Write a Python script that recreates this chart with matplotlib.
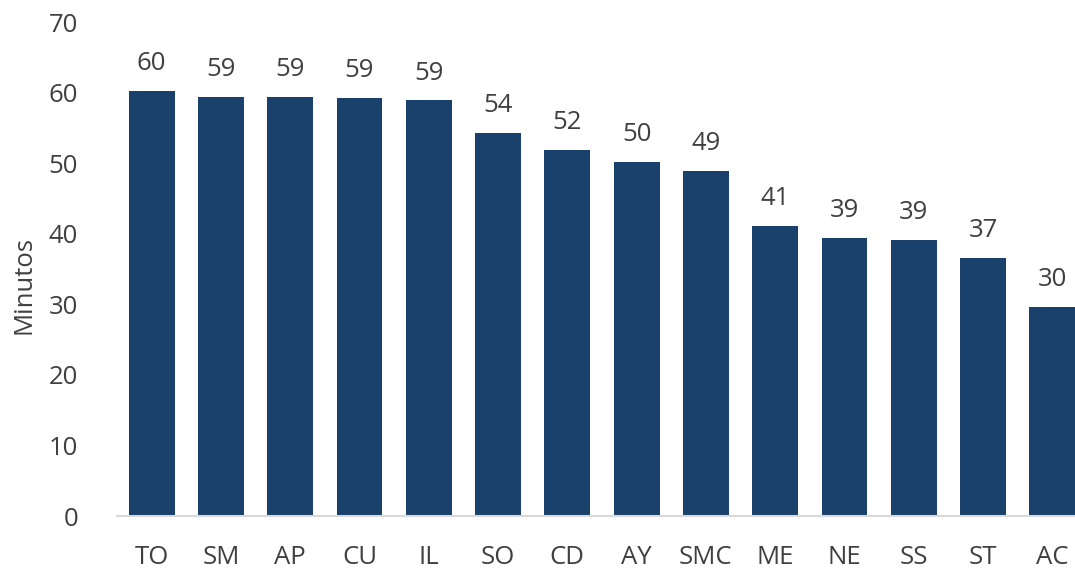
import matplotlib
matplotlib.use("Agg")
import matplotlib.pyplot as plt

categorias = ["TO", "SM", "AP", "CU", "IL", "SO", "CD", "AY", "SMC", "ME", "NE", "SS", "ST", "AC"]
minutos = [60.2, 59.4, 59.4, 59.3, 58.9, 54.3, 51.9, 50.2, 48.9, 41.1, 39.4, 39.1, 36.6, 29.6]

plt.rcParams['font.family'] = ['Open Sans', 'DejaVu Sans']
gris = '#404040'

fig = plt.figure(figsize=(10.75, 5.71), dpi=100)
# right edge runs past the figure, the last bar is cut like in the original
ax = fig.add_axes([117/1075, 55/571, 970/1075, 494/571])

x = range(len(categorias))
bars = ax.bar(x, minutos, width=0.66, color='#1a416b')
for b, v in zip(bars, minutos):
    ax.text(b.get_x() + b.get_width()/2, v + 2.1, f"{round(v)}",
            ha='center', va='bottom', fontsize=18.5, color=gris)

ax.set_xlim(-0.5, 13.5)
ax.set_ylim(0, 70)
ax.set_yticks(range(0, 71, 10))
ax.set_xticks(list(x))
ax.set_xticklabels(categorias)
ax.tick_params(axis='both', length=0, labelsize=18.5, labelcolor=gris)
ax.tick_params(axis='y', pad=28)
ax.tick_params(axis='x', pad=21)
ax.set_ylabel("Minutos", fontsize=18.5, color=gris)
ax.yaxis.set_label_coords(-0.083, 0.468)

for s in ['top', 'right', 'left']:
    ax.spines[s].set_visible(False)
ax.spines['bottom'].set_color('#d9d9d9')
ax.spines['bottom'].set_linewidth(1.5)

fig.savefig("out.png", dpi=100)
